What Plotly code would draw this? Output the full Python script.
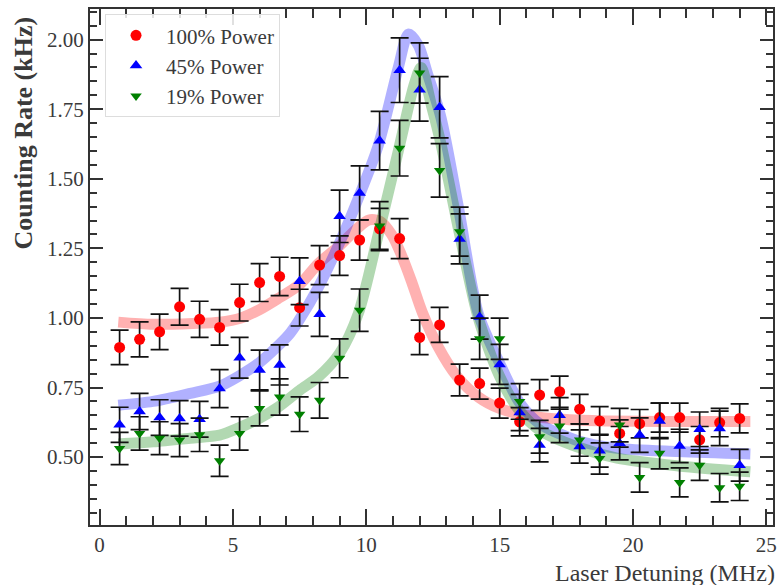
import plotly.graph_objects as go

# ---- data ----
detuning = [0.75, 1.5, 2.25, 3.0, 3.75, 4.5, 5.25, 6.0, 6.75, 7.5, 8.25, 9.0,
            9.75, 10.5, 11.25, 12.0, 12.75, 13.5, 14.25, 15.0, 15.75, 16.5,
            17.25, 18.0, 18.75, 19.5, 20.25, 21.0, 21.75, 22.5, 23.25, 24.0]

rate_100 = [0.894, 0.923, 0.950, 1.040, 0.995, 0.966, 1.055, 1.127, 1.149, 1.037,
            1.190, 1.224, 1.280, 1.320, 1.285, 0.930, 0.975, 0.777, 0.764, 0.694,
            0.627, 0.723, 0.735, 0.672, 0.630, 0.585, 0.620, 0.642, 0.642, 0.562,
            0.624, 0.639]
err_100 = [0.062, 0.063, 0.064, 0.066, 0.065, 0.064, 0.066, 0.068, 0.069, 0.066,
           0.070, 0.071, 0.072, 0.074, 0.072, 0.062, 0.063, 0.057, 0.056, 0.054,
           0.051, 0.055, 0.056, 0.053, 0.051, 0.049, 0.051, 0.052, 0.052, 0.048,
           0.051, 0.052]

rate_45 = [0.616, 0.664, 0.642, 0.639, 0.636, 0.746, 0.857, 0.813, 0.831, 1.132,
           1.013, 1.365, 1.449, 1.637, 1.890, 1.820, 1.757, 1.284, 1.003, 0.833,
           0.660, 0.543, 0.650, 0.538, 0.523, 0.550, 0.579, 0.630, 0.540, 0.600,
           0.603, 0.471]
err_45 = [0.063, 0.065, 0.064, 0.064, 0.064, 0.068, 0.073, 0.071, 0.072, 0.084,
          0.079, 0.094, 0.097, 0.105, 0.116, 0.113, 0.110, 0.090, 0.079, 0.072,
          0.065, 0.060, 0.064, 0.060, 0.059, 0.060, 0.062, 0.064, 0.060, 0.062,
          0.062, 0.057]

rate_19 = [0.531, 0.585, 0.568, 0.561, 0.580, 0.487, 0.585, 0.675, 0.716, 0.654,
           0.704, 0.855, 1.028, 1.330, 1.610, 1.880, 1.530, 1.310, 0.925, 0.925,
           0.700, 0.573, 0.612, 0.561, 0.495, 0.615, 0.427, 0.514, 0.409, 0.471,
           0.390, 0.395]
err_19 = [0.058, 0.060, 0.059, 0.059, 0.060, 0.056, 0.060, 0.063, 0.065, 0.062,
          0.064, 0.070, 0.076, 0.088, 0.100, 0.108, 0.096, 0.088, 0.074, 0.074,
          0.064, 0.059, 0.060, 0.058, 0.056, 0.060, 0.053, 0.056, 0.052, 0.055,
          0.051, 0.051]

# fitted curves
fit100_x = [0.7, 2.0, 3.5, 4.5, 5.3, 6.0, 6.7, 7.5, 8.2, 9.0, 9.7, 10.1, 10.5,
            10.95, 11.3, 11.7, 12.1, 12.7, 13.4, 14.2, 15.0, 16.0, 17.5, 19.0,
            21.0, 24.4]
fit100_y = [0.985, 0.977, 0.980, 0.985, 1.000, 1.030, 1.070, 1.120, 1.195, 1.260,
            1.325, 1.352, 1.348, 1.300, 1.230, 1.130, 1.020, 0.895, 0.790, 0.716,
            0.675, 0.650, 0.635, 0.630, 0.628, 0.628]

fit45_x = [0.7, 2.0, 3.4, 4.5, 5.2, 6.0, 7.1, 7.5, 8.2, 9.0, 9.7, 10.45, 11.2,
           11.58, 11.95, 12.3, 12.8, 13.45, 14.2, 15.0, 15.76, 16.5, 17.9, 19.4,
           21.7, 24.4]
fit45_y = [0.686, 0.700, 0.729, 0.755, 0.790, 0.840, 0.940, 0.995, 1.110, 1.270,
           1.430, 1.620, 1.900, 2.020, 1.980, 1.876, 1.720, 1.400, 1.016, 0.837,
           0.694, 0.620, 0.560, 0.532, 0.520, 0.511]

fit19_x = [0.7, 2.0, 3.4, 4.5, 5.2, 6.0, 6.7, 7.5, 8.2, 9.0, 9.7, 10.45, 11.2,
           11.8, 12.05, 12.45, 12.8, 13.5, 14.2, 15.0, 15.76, 16.5, 17.9, 19.4,
           21.7, 24.4]
fit19_y = [0.547, 0.555, 0.568, 0.579, 0.604, 0.640, 0.680, 0.740, 0.788, 0.873,
           1.016, 1.300, 1.600, 1.840, 1.900, 1.760, 1.625, 1.300, 1.000, 0.790,
           0.665, 0.597, 0.537, 0.496, 0.468, 0.447]

series_names = ["100% Power", "45% Power", "19% Power"]

SERIF = "Liberation Serif, Times New Roman, serif"
RED, BLUE, GREEN = "#ff0000", "#0000ff", "#008000"
TXT = "#3a3a3a"

fig = go.Figure()

# fit bands
for fx, fy, col in [(fit100_x, fit100_y, RED), (fit45_x, fit45_y, BLUE), (fit19_x, fit19_y, GREEN)]:
    fig.add_trace(go.Scatter(
        x=fx, y=fy, mode="lines", line=dict(color=col, width=11, shape="spline", smoothing=0.8),
        opacity=0.3, showlegend=False, hoverinfo="skip"))

# data with error bars
for name, ys, es, col, sym, size in [
        (series_names[0], rate_100, err_100, RED, "circle", 11),
        (series_names[1], rate_45, err_45, BLUE, "triangle-up", 11),
        (series_names[2], rate_19, err_19, GREEN, "triangle-down", 10)]:
    fig.add_trace(go.Scatter(
        x=detuning, y=ys, mode="markers", name=name,
        marker=dict(color=col, symbol=sym, size=size, line=dict(width=0)),
        error_y=dict(type="data", array=es, visible=True, color="#111111",
                     thickness=1.7, width=9)))

axis_common = dict(
    showline=True, linecolor="#333333", linewidth=2, mirror="ticks",
    ticks="inside", tickcolor="#333333", tickwidth=1.5,
    showgrid=False, zeroline=False,
    tickfont=dict(family=SERIF, size=21, color=TXT),
)

fig.update_xaxes(range=[-0.36, 25.25], tickvals=[0, 5, 10, 15, 20, 25], ticklen=16,
                 minor=dict(ticks="inside", dtick=1, ticklen=9, tickcolor="#333333", tickwidth=1.5),
                 **axis_common)
fig.update_yaxes(range=[0.256, 2.11], tickvals=[0.5, 0.75, 1.0, 1.25, 1.5, 1.75, 2.0],
                 ticktext=["0.50", "0.75", "1.00", "1.25", "1.50", "1.75", "2.00"], ticklen=13,
                 minor=dict(ticks="inside", dtick=0.05, tick0=0, ticklen=7, tickcolor="#333333", tickwidth=1.5),
                 **axis_common)

fig.update_layout(
    width=784, height=585,
    margin=dict(l=90, r=7, t=8, b=60),
    plot_bgcolor="white", paper_bgcolor="white",
    font=dict(family=SERIF, color=TXT),
    legend=dict(x=0.022, y=0.99, xanchor="left", yanchor="top", itemwidth=50,
                bgcolor="rgba(255,255,255,0.85)", bordercolor="#dddddd", borderwidth=1,
                font=dict(family=SERIF, size=21, color=TXT)),
    annotations=[
        dict(text="Laser Detuning (MHz)", xref="paper", yref="paper", x=1.006, y=-0.093,
             xanchor="right", yanchor="middle", showarrow=False,
             font=dict(family=SERIF, size=24, color=TXT)),
        dict(text="<b>Counting Rate (kHz)</b>", xref="paper", yref="paper", x=-0.097, y=0.99,
             xanchor="center", yanchor="top", textangle=-90, showarrow=False,
             font=dict(family=SERIF, size=26, color=TXT)),
    ],
)

fig.write_html("out.html")
